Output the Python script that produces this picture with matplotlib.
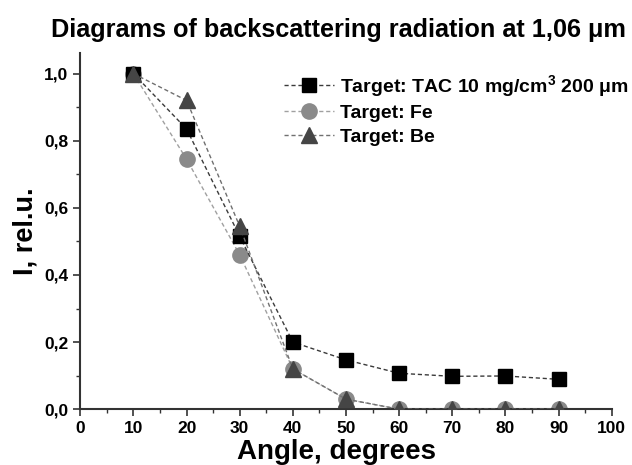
import matplotlib
matplotlib.use("Agg")
import matplotlib.pyplot as plt
from matplotlib.ticker import MultipleLocator, FuncFormatter

angles = [10, 20, 30, 40, 50, 60, 70, 80, 90]
tac = [1.0, 0.835, 0.515, 0.20, 0.147, 0.107, 0.098, 0.099, 0.089]
fe = [1.0, 0.745, 0.46, 0.12, 0.03, 0.0, 0.0, 0.0, 0.0]
be = [1.0, 0.92, 0.545, 0.12, 0.03, 0.0, 0.0, 0.0, 0.0]
labels = ["Target: TAC 10 mg/cm$^{3}$ 200 \u03bcm", "Target: Fe", "Target: Be"]

plt.rcParams['font.family'] = ['Liberation Sans', 'DejaVu Sans']
plt.rcParams['mathtext.fontset'] = 'custom'
plt.rcParams['mathtext.rm'] = 'Liberation Sans:bold'
plt.rcParams['mathtext.it'] = 'Liberation Sans:bold'

fig = plt.figure(figsize=(6.32, 4.65), dpi=100)
ax = fig.add_axes([0.127, 0.12, 0.841, 0.765])

dash = (0, (3, 2))
ax.plot(angles, tac, ls=dash, color='#3a3a3a', lw=1.0, marker='s', ms=10,
        mfc='black', mec='black', label=labels[0], zorder=3)
ax.plot(angles, fe, ls=dash, color='#a0a0a0', lw=1.0, marker='o', ms=11,
        mfc='#8a8a8a', mec='#8a8a8a', label=labels[1], zorder=2)
ax.plot(angles, be, ls=dash, color='#707070', lw=1.0, marker='^', ms=11,
        mfc='#454545', mec='#454545', label=labels[2], zorder=4)

ax.set_xlim(0, 100)
ax.set_ylim(0, 1.06)
ax.xaxis.set_major_locator(MultipleLocator(10))
ax.xaxis.set_minor_locator(MultipleLocator(5))
ax.yaxis.set_major_locator(MultipleLocator(0.2))
ax.yaxis.set_minor_locator(MultipleLocator(0.1))
ax.yaxis.set_major_formatter(FuncFormatter(lambda v, p: f"{v:.1f}".replace('.', ',')))
ax.spines['top'].set_visible(False)
ax.spines['right'].set_visible(False)
for s in ('left', 'bottom'):
    ax.spines[s].set_linewidth(1.5)
    ax.spines[s].set_color('#333333')
ax.tick_params(which='major', length=5, width=1.2, direction='out', labelsize=12.5, color='#333333')
ax.tick_params(which='minor', length=3, width=1.0, direction='out', color='#333333')
for t in ax.get_xticklabels() + ax.get_yticklabels():
    t.set_fontweight('bold')

ax.set_xlabel("Angle, degrees", fontsize=20, fontweight='bold')
ax.xaxis.set_label_coords(0.483, -0.085)
ax.set_ylabel("I, rel.u.", fontsize=19.5, fontweight='bold', labelpad=4)
fig.text(0.535, 0.935, "Diagrams of backscattering radiation at 1,06 \u03bcm",
         ha='center', va='center', fontsize=18.2, fontweight='bold')

leg = ax.legend(loc='upper right', bbox_to_anchor=(1.065, 0.995), frameon=False,
                prop={'weight': 'bold', 'size': 14}, handlelength=2.6,
                labelspacing=0.3, handletextpad=0.3)

fig.savefig("out.png", dpi=100)
